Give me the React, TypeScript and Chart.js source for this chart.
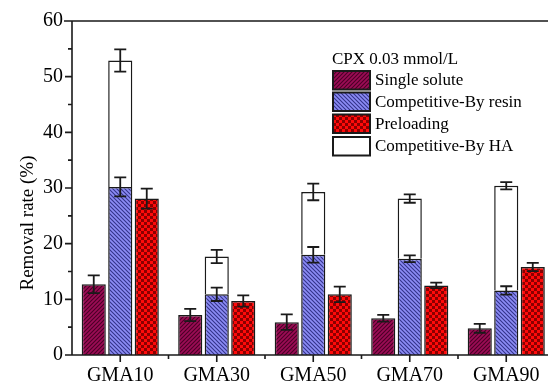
import { useEffect, useRef } from 'react';
import { Chart, registerables } from 'chart.js';

Chart.register(...registerables);

const categories = ['GMA10', 'GMA30', 'GMA50', 'GMA70', 'GMA90'];
const singleSolute = [12.7, 7.2, 5.9, 6.6, 4.8];
const singleSoluteErr = [1.6, 1.1, 1.4, 0.6, 0.8];
const byResin = [30.2, 10.9, 18.0, 17.3, 11.6];
const byResinErr = [1.7, 1.2, 1.4, 0.6, 0.75];
const preloading = [28.1, 9.7, 10.9, 12.5, 15.8];
const preloadingErr = [1.8, 1.0, 1.4, 0.5, 0.75];
const byHATotal = [52.9, 17.7, 29.3, 28.1, 30.4];
const byHAErr = [2.0, 1.2, 1.5, 0.75, 0.65];
const seriesLabels = ['Single solute', 'Competitive-By resin', 'Preloading', 'Competitive-By HA'];
const legendTitle = 'CPX 0.03 mmol/L';
const yTitle = 'Removal rate (%)';
const yMin = 0;
const yMax = 60;
const yMajorStep = 10;
const yMinorStep = 5;

const FONT = '"Liberation Serif", "Times New Roman", serif';
const INK = '#1a1a1a';

function stripePattern(bg: string, fg: string, dir: '/' | '\\') {
  const c = document.createElement('canvas');
  c.width = 4;
  c.height = 4;
  const g = c.getContext('2d')!;
  g.fillStyle = bg;
  g.fillRect(0, 0, 4, 4);
  g.strokeStyle = fg;
  g.lineWidth = 1.1;
  g.beginPath();
  if (dir === '/') {
    g.moveTo(-1, 5); g.lineTo(5, -1);
    g.moveTo(-1, 1); g.lineTo(1, -1);
    g.moveTo(3, 5); g.lineTo(5, 3);
  } else {
    g.moveTo(-1, -1); g.lineTo(5, 5);
    g.moveTo(-1, 3); g.lineTo(1, 5);
    g.moveTo(3, -1); g.lineTo(5, 1);
  }
  g.stroke();
  return g.createPattern(c, 'repeat')!;
}

function checkerPattern(bg: string, fg: string) {
  const c = document.createElement('canvas');
  c.width = 6;
  c.height = 6;
  const g = c.getContext('2d')!;
  g.fillStyle = bg;
  g.fillRect(0, 0, 6, 6);
  g.fillStyle = fg;
  g.fillRect(0, 0, 3, 3);
  g.fillRect(3, 3, 3, 3);
  return g.createPattern(c, 'repeat')!;
}

export default function App() {
  const ref = useRef<HTMLCanvasElement>(null);

  useEffect(() => {
    const canvas = ref.current!;
    const fills = [
      stripePattern('#9c0c55', '#4a0026', '/'),
      stripePattern('#8c8cf5', '#34348a', '\\'),
      checkerPattern('#ff0a0a', '#8a0000'),
      '#ffffff',
    ];
    const errs = [singleSoluteErr, byResinErr, preloadingErr, byHAErr];
    const tops = [singleSolute, byResin, preloading, byHATotal];
    const haSegment = byHATotal.map((t, i) => t - byResin[i]);

    const decor = {
      id: 'decor',
      afterDatasetsDraw(chart: any) {
        const ctx = chart.ctx;
        const y = chart.scales.y;
        ctx.save();
        ctx.strokeStyle = INK;
        ctx.lineWidth = 1.8;
        for (let d = 0; d < 4; d++) {
          const meta = chart.getDatasetMeta(d);
          meta.data.forEach((el: any, i: number) => {
            const v = tops[d][i];
            const e = errs[d][i];
            const x = el.x;
            const y1 = y.getPixelForValue(v + e);
            const y2 = y.getPixelForValue(v - e);
            ctx.beginPath();
            ctx.moveTo(x, y1); ctx.lineTo(x, y2);
            ctx.moveTo(x - 6, y1); ctx.lineTo(x + 6, y1);
            ctx.moveTo(x - 6, y2); ctx.lineTo(x + 6, y2);
            ctx.stroke();
          });
        }
        ctx.restore();
      },
      afterDraw(chart: any) {
        const ctx = chart.ctx;
        const { left, top, bottom } = chart.chartArea;
        const xs = chart.scales.x;
        const ys = chart.scales.y;
        const W = chart.width;
        ctx.save();
        ctx.strokeStyle = INK;
        ctx.lineWidth = 1.6;
        ctx.beginPath();
        ctx.moveTo(left, top); ctx.lineTo(left, bottom + 0.8);
        ctx.moveTo(64, top); ctx.lineTo(W, top);
        ctx.moveTo(left - 0.8, bottom); ctx.lineTo(W, bottom);
        for (let v = yMin; v <= yMax; v += yMinorStep) {
          const py = ys.getPixelForValue(v);
          const len = v % yMajorStep === 0 ? 7 : 4;
          ctx.moveTo(left, py); ctx.lineTo(left - len, py);
        }
        const half = (xs.getPixelForValue(1) - xs.getPixelForValue(0)) / 2;
        categories.forEach((_, i) => {
          const px = xs.getPixelForValue(i);
          ctx.moveTo(px, bottom); ctx.lineTo(px, bottom + 7);
          ctx.moveTo(px + half, bottom); ctx.lineTo(px + half, bottom + 4);
        });
        ctx.stroke();

        // y title
        ctx.fillStyle = '#000';
        ctx.font = `19px ${FONT}`;
        ctx.textAlign = 'center';
        ctx.textBaseline = 'alphabetic';
        ctx.translate(33, 223);
        ctx.rotate(-Math.PI / 2);
        ctx.fillText(yTitle, 0, 0);
        ctx.setTransform(1, 0, 0, 1, 0, 0);

        // legend
        ctx.font = `17px ${FONT}`;
        ctx.textAlign = 'left';
        ctx.textBaseline = 'middle';
        ctx.fillText(legendTitle, 332, 60);
        const boxTops = [71, 92.5, 114.5, 137];
        for (let d = 0; d < 4; d++) {
          const by = boxTops[d];
          ctx.fillStyle = fills[d];
          ctx.fillRect(333, by, 37, 18.5);
          ctx.lineWidth = 2;
          ctx.strokeStyle = INK;
          ctx.strokeRect(333, by, 37, 18.5);
          ctx.fillStyle = '#000';
          ctx.fillText(seriesLabels[d], 375, by + 9.8);
        }
        ctx.restore();
      },
    };

    const common = {
      borderColor: INK,
      borderWidth: 1.5,
      categoryPercentage: 0.824,
      barPercentage: 0.91,
    };

    const chart = new Chart(canvas, {
      type: 'bar',
      data: {
        labels: categories,
        datasets: [
          { label: seriesLabels[0], data: singleSolute, backgroundColor: fills[0], stack: 's1', ...common },
          { label: seriesLabels[1], data: byResin, backgroundColor: fills[1], stack: 's2', ...common },
          { label: seriesLabels[2], data: preloading, backgroundColor: fills[2], stack: 's3', ...common },
          { label: seriesLabels[3], data: haSegment, backgroundColor: fills[3], stack: 's2', ...common },
        ],
      },
      options: {
        responsive: false,
        animation: false,
        layout: { padding: { top: 20, right: 5.5, left: 0, bottom: 0 } },
        plugins: { legend: { display: false }, tooltip: { enabled: false } },
        scales: {
          x: {
            stacked: true,
            grid: { display: false, drawTicks: false },
            border: { display: false },
            ticks: { color: '#000', font: { family: FONT, size: 20 }, padding: 9, maxRotation: 0 },
            afterFit: (s: any) => { s.height = 27; },
          },
          y: {
            stacked: true,
            min: yMin,
            max: yMax,
            grid: { display: false, drawTicks: false },
            border: { display: false },
            ticks: { stepSize: yMajorStep, color: '#000', font: { family: FONT, size: 20 }, padding: 9 },
            afterFit: (s: any) => { s.width = 72; },
          },
        },
      },
      plugins: [decor],
    } as any);

    return () => chart.destroy();
  }, []);

  return (
    <div style={{ position: 'fixed', left: 0, top: 0, width: 548, height: 382, overflow: 'hidden', background: '#fff' }}>
      <canvas ref={ref} width={560} height={382} style={{ display: 'block' }} />
    </div>
  );
}
